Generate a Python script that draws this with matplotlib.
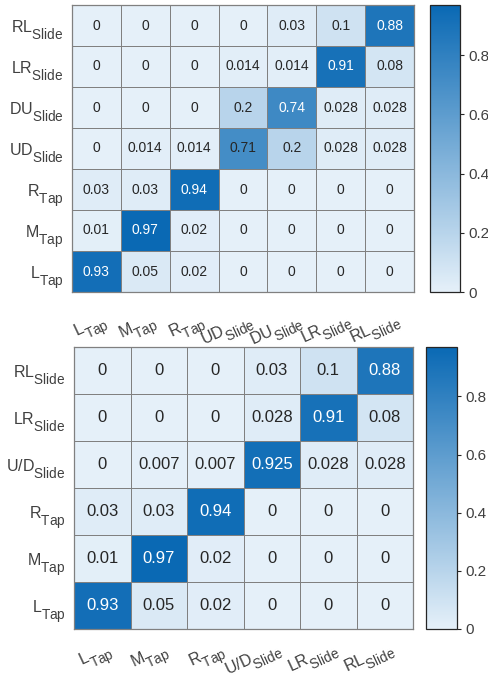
import numpy as np
import matplotlib
matplotlib.use("Agg")
import matplotlib.pyplot as plt
from matplotlib.colors import LinearSegmentedColormap
import matplotlib.transforms as mtransforms
try:
    import matplotlib._mathtext as _mt
    _mt.SHRINK_FACTOR = 0.85
    _mt.FontConstantsBase.sub1 = 0.8
    _mt.FontConstantsBase.sub2 = 0.8
except Exception:
    pass

plt.rcParams['font.family'] = ['Liberation Sans', 'DejaVu Sans']
plt.rcParams['mathtext.fontset'] = 'custom'
plt.rcParams['mathtext.rm'] = 'Liberation Sans'
plt.rcParams['mathtext.it'] = 'Liberation Sans:italic'
plt.rcParams['mathtext.bf'] = 'Liberation Sans:bold'

# ---- data ----
top_labels = ["L_Tap", "M_Tap", "R_Tap", "UD_Slide", "DU_Slide", "LR_Slide", "RL_Slide"]
top_matrix = [  # rows listed from top (RL_Slide) to bottom (L_Tap)
    [0, 0, 0, 0, 0.03, 0.1, 0.88],
    [0, 0, 0, 0.014, 0.014, 0.91, 0.08],
    [0, 0, 0, 0.2, 0.74, 0.028, 0.028],
    [0, 0.014, 0.014, 0.71, 0.2, 0.028, 0.028],
    [0.03, 0.03, 0.94, 0, 0, 0, 0],
    [0.01, 0.97, 0.02, 0, 0, 0, 0],
    [0.93, 0.05, 0.02, 0, 0, 0, 0],
]
bot_labels = ["L_Tap", "M_Tap", "R_Tap", "U/D_Slide", "LR_Slide", "RL_Slide"]
bot_matrix = [
    [0, 0, 0, 0.03, 0.1, 0.88],
    [0, 0, 0, 0.028, 0.91, 0.08],
    [0, 0.007, 0.007, 0.925, 0.028, 0.028],
    [0.03, 0.03, 0.94, 0, 0, 0],
    [0.01, 0.97, 0.02, 0, 0, 0],
    [0.93, 0.05, 0.02, 0, 0, 0],
]
cbar_ticks = [0, 0.2, 0.4, 0.6, 0.8]

cmap = LinearSegmentedColormap.from_list("blues_m", ["#e5f0f9", "#0a69b4"])
TXT = "#262626"
LAB = "#404040"
EDGE = "#808080"

W, H = 488, 680
fig = plt.figure(figsize=(W / 100, H / 100), dpi=100)


def fx(px):
    return px / W


def fy(py_top, py_bot):
    return (H - py_bot) / H, (py_bot - py_top) / H


def tex(lbl):
    main, sub = lbl.split("_")
    return r"$\mathregular{%s_{%s}}$" % (main, sub)


def draw(mat, labels, ax_box, cax_box, fsize, xlab_off):
    mat = np.array(mat, dtype=float)
    n = mat.shape[0]
    vmax = mat.max()
    x0, x1, y0, y1 = ax_box
    b, h = fy(y0, y1)
    ax = fig.add_axes([fx(x0), b, fx(x1 - x0), h])
    mesh = ax.pcolormesh(mat, cmap=cmap, vmin=0, vmax=vmax,
                         edgecolors=EDGE, linewidth=0.6)
    ax.set_xlim(0, n)
    ax.set_ylim(n, 0)
    for i in range(n):
        for j in range(n):
            v = mat[i, j]
            ax.text(j + 0.5, i + 0.5, "{:g}".format(v), ha="center", va="center",
                    fontsize=fsize, color="white" if v > 0.72 else TXT)
    rev = labels[::-1]
    ax.set_yticks(np.arange(n) + 0.5)
    ax.set_yticklabels([tex(l) for l in rev], fontsize=11.5, color=LAB)
    ax.set_xticks(np.arange(n) + 0.5)
    ax.set_xticklabels([tex(l) for l in labels], fontsize=11.5, color=LAB,
                       rotation=25, ha="right", rotation_mode="anchor")
    ax.tick_params(length=0, pad=6)
    offset = mtransforms.ScaledTranslation(xlab_off[0] / 100, xlab_off[1] / 100,
                                           fig.dpi_scale_trans)
    for t in ax.get_xticklabels():
        t.set_transform(t.get_transform() + offset)
    for s in ax.spines.values():
        s.set_color(EDGE)
        s.set_linewidth(0.9)

    cx0, cx1, cy0, cy1 = cax_box
    cb_b, cb_h = fy(cy0, cy1)
    cax = fig.add_axes([fx(cx0), cb_b, fx(cx1 - cx0), cb_h])
    cb = fig.colorbar(mesh, cax=cax, ticks=cbar_ticks)
    cb.ax.set_yticklabels(["{:g}".format(t) for t in cbar_ticks])
    cb.ax.tick_params(labelsize=11, labelcolor=LAB, length=3, width=0.8,
                      color=TXT, direction="out", pad=3)
    cb.outline.set_edgecolor(TXT)
    cb.outline.set_linewidth(0.9)
    return ax


draw(top_matrix, top_labels, (72, 414, 5, 292), (430, 460, 5, 292), 10, (5, -9))
draw(bot_matrix, bot_labels, (74, 413, 347, 629), (426, 457, 347, 629), 12, (4, -1))

fig.savefig("out.png", dpi=100)
